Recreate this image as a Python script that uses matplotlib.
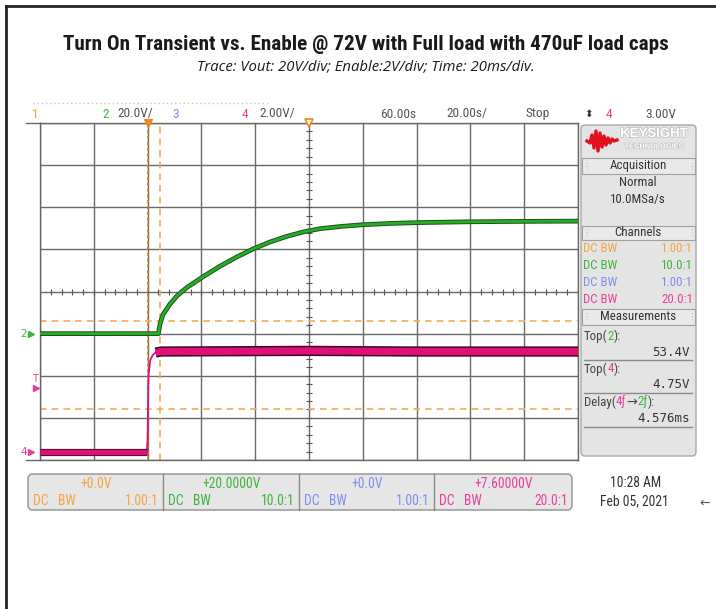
import matplotlib
matplotlib.use('Agg')
import matplotlib.pyplot as plt
import numpy as np
from matplotlib import font_manager, transforms
from matplotlib import patheffects as pe
from matplotlib.patches import FancyBboxPatch, Rectangle
from matplotlib.lines import Line2D

# ---------------- data ----------------
green_t_ms = [-40, 4.0, 4.6, 5.7, 8.3, 11.0, 14.6, 20.6, 26.9, 33.2, 39.2, 45.5, 51.8,
              58.0, 64.0, 72.0, 80.0, 90.0, 100.0, 120.0, 140.0, 160.0]
green_vout_v = [0.0, 0.0, 4.5, 9.0, 14.0, 18.0, 21.9, 27.0, 32.0, 36.4, 40.2, 43.5, 46.2,
                48.3, 49.8, 50.9, 51.7, 52.3, 52.7, 53.1, 53.3, 53.4]
pink_t_ms = [-40, -0.3, 0.0, 0.3, 1.0, 2.0, 3.0, 5.0, 60, 100, 160]
pink_enable_v = [0.0, 0.0, 0.6, 3.6, 4.35, 4.6, 4.7, 4.75, 4.78, 4.75, 4.75]
cursor_t_ms = [4.6]
cursor_green_v = [6.0, -35.8]
trigger_t_ms = 0.0
trigger_level_v = 3.0
time_ref_ms = 60.0

top_bar_labels = [("1", 32, '#f5a030'), ("2", 102, '#3cb53c'),
                  ("20.0V/", 117, '#555555'), ("3", 172, '#7f8ff0'),
                  ("4", 242, '#e8409a'), ("2.00V/", 259, '#555555'),
                  ("60.00s", 380, '#555555'), ("20.00s/", 446, '#555555'),
                  ("Stop", 526, '#555555'), ("4", 606, '#e8409a'),
                  ("3.00V", 645, '#555555')]
channel_colors = ['#f7a440', '#3cb53c', '#7f8ff0', '#e8409a']
channel_ratio = ["1.00:1", "10.0:1", "1.00:1", "20.0:1"]
channel_offset = ["+0.0V", "+20.0000V", "+0.0V", "+7.60000V"]
meas_values = ["53.4V", "4.75V", "4.576ms"]

# ---------------- fonts ----------------
ttf = font_manager.fontManager.ttflist
names = {f.name for f in ttf}
NARROW_KW = None
for cand in ['Roboto Condensed', 'Liberation Sans Narrow', 'Open Sans Condensed',
             'DejaVu Sans Condensed', 'Noto Sans Condensed']:
    if cand in names:
        NARROW_KW = dict(family=[cand, 'DejaVu Sans'])
        break
if NARROW_KW is None:
    if any(f.name == 'DejaVu Sans' and str(f.stretch) in ('condensed', 'semi-condensed') for f in ttf):
        NARROW_KW = dict(family=['DejaVu Sans'], fontstretch='condensed')
    else:
        NARROW_KW = dict(family=['Liberation Sans', 'DejaVu Sans'])
plt.rcParams['font.family'] = ['DejaVu Sans']

FS = 9.3  # scope UI font size

W, H = 716, 609
fig = plt.figure(figsize=(W / 100, H / 100), dpi=100)
fig.patch.set_facecolor('white')
PX = transforms.Affine2D().scale(1 / W, -1 / H).translate(0, 1) + fig.transFigure
renderer = fig.canvas.get_renderer()


def T(x, y, s, **kw):
    kw.setdefault('va', 'center')
    return fig.text(x, y, s, transform=PX, **kw)


def N(x, y, s, **kw):
    kw.setdefault('fontsize', FS)
    return T(x, y, s, **NARROW_KW, **kw)


def fit(t, width):
    w = t.get_window_extent(renderer).width
    t.set_fontsize(t.get_fontsize() * width / w)


def rich(x, y, parts, **kw):
    for s, c in parts:
        t = N(x, y, s, color=c, ha='left', **kw)
        x += t.get_window_extent(renderer).width


def L(xs, ys, **kw):
    fig.add_artist(Line2D(xs, ys, transform=PX, **kw))


# page border
L([6, W], [6, 6], color='#222222', lw=2.0)
L([6, 6], [6, H], color='#222222', lw=2.0)

# titles
t1 = N(366, 45, "Turn On Transient vs. Enable @ 72V with Full load with 470uF load caps",
       ha='center', fontsize=14.5, fontweight='bold', color='#1a1a1a')
fit(t1, 606)
t2 = T(366, 67, "Trace: Vout: 20V/div; Enable:2V/div; Time: 20ms/div.",
       ha='center', fontsize=9.2, style='italic', family='Open Sans', color='#1a1a1a')
fit(t2, 338)

# faint dotted line of screenshot edge
L([33, 270], [103, 103], color='#c8c8c8', lw=1, ls=(0, (1, 2)))

# top bar labels
for s, x, c in top_bar_labels:
    N(x, 114, s, color=c, ha='left', fontsize=9.6)
T(589, 114, "⬍", color='#333333', ha='center', fontsize=7.5)

# ---------------- main scope screen ----------------
ax = fig.add_axes([40 / W, 1 - 460 / H, 538 / W, 337 / H])
ax.set_xlim(-40, 160)
ax.set_ylim(-60, 100)
ax.set_xticks(np.arange(-40, 161, 20))
ax.set_yticks(np.arange(-60, 101, 20))
ax.grid(True, color='#6a6a6a', lw=1.0)
ax.tick_params(length=0, labelleft=False, labelbottom=False)
for sp in ax.spines.values():
    sp.set_color('#666666')
    sp.set_linewidth(1.0)
ax.set_axisbelow(True)
ax2 = ax.twinx()
ax2.set_ylim(-0.4, 15.6)
ax2.set_yticks([])
for sp in ax2.spines.values():
    sp.set_visible(False)

# extended top/bottom border lines
L([26, 40], [123, 123], color='#666666', lw=1.0)
L([26, 40], [460, 460], color='#666666', lw=1.0)

# center tick marks
xt = np.arange(-40, 161, 4)
ax.plot(xt, np.full(len(xt), 20.0), ls='none', marker='|', ms=4, color='#555555', mew=0.8)
yt = np.arange(-60, 101, 4)
ax.plot(np.full(len(yt), time_ref_ms), yt, ls='none', marker='_', ms=4, color='#555555', mew=0.8)

# cursors
ax.axvline(trigger_t_ms, color='#d77a14', lw=1.2, ls=(0, (2, 1.5)))
for ct in cursor_t_ms:
    ax.axvline(ct, color='#f7ab52', lw=1.2, ls=(0, (4, 3)))
for cv in cursor_green_v:
    ax.axhline(cv, color='#f7ab52', lw=1.2, ls=(0, (4, 3)))

# traces
ax.plot(green_t_ms, green_vout_v, color='#22b022', lw=2.0, solid_capstyle='butt',
        solid_joinstyle='round',
        path_effects=[pe.Stroke(linewidth=3.4, foreground='#244a24'), pe.Normal()], zorder=5)
pt = np.array(pink_t_ms)
pv = np.array(pink_enable_v)
ax2.plot(pt, pv, color='#e0107a', lw=1.3, zorder=4)
low = pt <= -0.3
high = pt >= 3.0
ax2.plot(pt[low], pv[low], color='#e0107a', lw=3.8, solid_capstyle='butt',
         path_effects=[pe.Stroke(linewidth=5.2, foreground='#4a0a25'), pe.Normal()], zorder=4)
ax2.plot(pt[high], pv[high], color='#e0107a', lw=5.2, solid_capstyle='butt',
         path_effects=[pe.Stroke(linewidth=7.4, foreground='#3e0820'), pe.Normal()], zorder=4)

# top markers (trigger & time reference)
bx = transforms.blended_transform_factory(ax.transData, ax.transAxes)
ax.plot([trigger_t_ms], [1.0], transform=bx, marker='v', ms=6, color='#f08a1c', clip_on=False, zorder=6)
ax.plot([time_ref_ms], [1.0], transform=bx, marker='v', ms=6, mfc='white', mec='#f08a1c',
        mew=1.2, clip_on=False, zorder=6)

# left channel markers
bg = transforms.blended_transform_factory(ax.transAxes, ax.transData)
bp = transforms.blended_transform_factory(ax.transAxes, ax2.transData)
ax.text(-0.03, 0.0, "2", transform=bg, color='#3cb53c', fontsize=7.5, ha='center', va='center')
ax.plot([-0.016], [0.0], transform=bg, marker='>', ms=4, color='#3cb53c', clip_on=False)
ax2.text(-0.009, trigger_level_v + 0.45, "T", transform=bp, color='#e8409a', fontsize=7, ha='center', va='center')
ax2.plot([-0.007], [trigger_level_v], transform=bp, marker='>', ms=4, color='#e8409a', clip_on=False)
ax2.text(-0.03, 0.0, "4", transform=bp, color='#e8409a', fontsize=7.5, ha='center', va='center')
ax2.plot([-0.016], [0.0], transform=bp, marker='>', ms=4, color='#e8409a', clip_on=False)

# ---------------- right panel ----------------
panel = FancyBboxPatch((581, 125), 115, 331, boxstyle='round,pad=0,rounding_size=4',
                       fc='#e4e4e4', ec='#a9a9a9', lw=1.0, transform=PX)
fig.add_artist(panel)
logo_x = [587, 590, 592, 594, 596, 598, 600, 602, 604, 606, 608, 610, 612, 614, 617]
logo_y = [141, 143, 135, 148, 131, 151, 133, 147, 136, 145, 138, 143, 139, 141, 140]
L(logo_x, logo_y, color='#e3101e', lw=2.4)
T(654, 134, "KEYSIGHT", color='white', ha='center', fontsize=9.5, fontweight='bold', family='Liberation Sans',
  path_effects=[pe.withStroke(linewidth=1.2, foreground='#c4c4c4')])
T(654, 147, "TECHNOLOGIES", color='white', ha='center', fontsize=5.3, fontweight='bold', family='Liberation Sans',
  path_effects=[pe.withStroke(linewidth=1.0, foreground='#c4c4c4')])
for y0, y1, title in [(158, 174, "Acquisition"), (226, 240, "Channels"), (309, 325, "Measurements")]:
    fig.add_artist(Rectangle((582, y0), 113, y1 - y0, fc='#e9e9e9', ec='#a0a0a0', lw=0.8, transform=PX))
    N(638, (y0 + y1) / 2, title, color='#333333', ha='center')
    T(586, (y0 + y1) / 2, "⋮", color='#b0b0b0', ha='center', fontsize=6)
    T(691, (y0 + y1) / 2, "⋮", color='#b0b0b0', ha='center', fontsize=6)
N(638, 183, "Normal", color='#333333', ha='center')
N(638, 199, "10.0MSa/s", color='#333333', ha='center')
for i, (c, r) in enumerate(zip(channel_colors, channel_ratio)):
    y = 249 + i * 16.8
    N(583, y, "DC BW", color=c, ha='left')
    N(693, y, r, color=c, ha='right')
g = '#444444'
rich(584, 336, [("Top(", g), ("2", channel_colors[1]), ("):", g)])
rich(584, 369, [("Top(", g), ("4", channel_colors[3]), ("):", g)])
rich(584, 402, [("Delay(", g), ("4ƒ", channel_colors[3]), ("→", g), ("2ƒ", channel_colors[1]), ("):", g)])
for v, y in zip(meas_values, [352, 385, 418]):
    T(690, y, v, color='#333333', ha='right', fontsize=9, family='DejaVu Sans Mono')
for y in [360, 393, 427]:
    L([584, 692], [y, y], color='#8a8a8a', lw=1.0)

# ---------------- bottom channel bar ----------------
bar = FancyBboxPatch((28, 474), 544, 36, boxstyle='round,pad=0,rounding_size=5',
                     fc='#e6e6e6', ec='#a0a0a0', lw=1.2, transform=PX)
fig.add_artist(bar)
edges = [28, 163, 299, 434, 572]
for i in range(4):
    x0, x1 = edges[i], edges[i + 1]
    if i > 0:
        L([x0, x0], [474, 510], color='#8a8a8a', lw=1.0)
    c = channel_colors[i]
    N((x0 + x1) / 2 + 1, 484, channel_offset[i], color=c, ha='center', fontsize=9.8)
    N(x0 + 5, 501, "DC", color=c, ha='left', fontsize=9.8)
    N(x0 + 30, 501, "BW", color=c, ha='left', fontsize=9.8)
    N(x1 - 4, 501, channel_ratio[i], color=c, ha='right', fontsize=9.8)

N(636, 483, "10:28 AM", color='#333333', ha='center', fontsize=9.8)
N(634, 501, "Feb 05, 2021", color='#333333', ha='center', fontsize=9.8)
T(705, 503, "←", color='#555555', ha='center', fontsize=9)

fig.savefig('out.png', dpi=100)
